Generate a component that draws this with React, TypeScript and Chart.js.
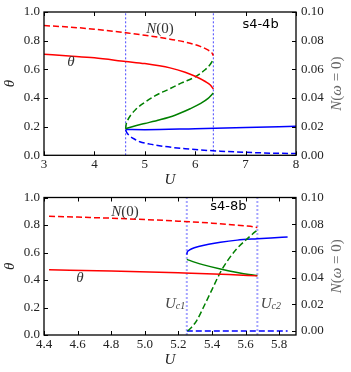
import React, { useEffect, useRef } from "react";
import { Chart, registerables } from "chart.js";
Chart.register(...registerables);

// ---------------- Panel A : s4-4b ----------------
const aXTicks = [3, 4, 5, 6, 7, 8];
const aThetaTicks = [0, 0.2, 0.4, 0.6, 0.8, 1.0];
const aNTicks = [0, 0.02, 0.04, 0.06, 0.08, 0.1];
const aUc = [4.62, 6.36];

const aRedThetaU = [3, 3.5, 4, 4.62, 5, 5.5, 5.8, 6.0, 6.2, 6.3, 6.36];
const aRedTheta = [0.705, 0.693, 0.68, 0.655, 0.64, 0.61, 0.58, 0.552, 0.515, 0.49, 0.462];
const aRedNU = [3, 3.5, 4, 4.62, 5, 5.5, 5.8, 6.1, 6.25, 6.33, 6.36];
const aRedN = [0.0905, 0.0895, 0.088, 0.0855, 0.0838, 0.081, 0.079, 0.076, 0.0735, 0.0715, 0.0695];

const aGreenThetaU = [4.62, 4.8, 5.0, 5.3, 5.6, 5.9, 6.1, 6.25, 6.36];
const aGreenTheta = [0.185, 0.205, 0.222, 0.248, 0.28, 0.325, 0.36, 0.395, 0.435];
const aGreenNU = [4.62, 4.63, 4.66, 4.72, 4.82, 4.94, 5.2, 5.47, 5.73, 6.0, 6.19, 6.3, 6.36];
const aGreenN = [0.0185, 0.0215, 0.0245, 0.028, 0.032, 0.0355, 0.0415, 0.046, 0.0505, 0.0547, 0.0595, 0.0635, 0.0668];

const aBlueThetaU = [4.62, 5, 6, 7, 8];
const aBlueTheta = [0.18, 0.179, 0.186, 0.194, 0.203];
const aBlueNU = [4.62, 4.64, 4.7, 4.8, 4.9, 5.1, 5.4, 5.8, 6.1, 6.5, 7, 7.5, 8];
const aBlueN = [0.0177, 0.016, 0.0135, 0.0112, 0.0095, 0.0078, 0.0061, 0.0046, 0.0037, 0.0029, 0.0021, 0.0015, 0.0012];

// ---------------- Panel B : s4-8b ----------------
const bXTicks = [4.4, 4.6, 4.8, 5.0, 5.2, 5.4, 5.6, 5.8];
const bThetaTicks = [0, 0.2, 0.4, 0.6, 0.8, 1.0];
const bNTicks = [0, 0.02, 0.04, 0.06, 0.08, 0.1];
const bUc = [5.25, 5.67];

const bRedThetaU = [4.43, 4.8, 5.2, 5.5, 5.67];
const bRedTheta = [0.474, 0.465, 0.452, 0.44, 0.43];
const bRedNU = [4.43, 4.6, 4.8, 5.0, 5.2, 5.4, 5.5, 5.6, 5.65, 5.67];
const bRedN = [0.086, 0.0853, 0.0845, 0.0835, 0.0823, 0.0808, 0.0798, 0.0787, 0.078, 0.0775];

const bGreenThetaU = [5.25, 5.3, 5.35, 5.45, 5.55, 5.62, 5.67];
const bGreenTheta = [0.55, 0.528, 0.51, 0.48, 0.455, 0.44, 0.432];
const bGreenNU = [5.255, 5.28, 5.31, 5.35, 5.4, 5.45, 5.5, 5.55, 5.6, 5.64, 5.67];
const bGreenN = [0.0, 0.003, 0.008, 0.018, 0.031, 0.044, 0.054, 0.062, 0.068, 0.0725, 0.0756];

const bBlueThetaU = [5.25, 5.252, 5.26, 5.28, 5.32, 5.38, 5.45, 5.55, 5.67, 5.75, 5.85];
const bBlueTheta = [0.585, 0.6, 0.613, 0.627, 0.643, 0.66, 0.675, 0.69, 0.7, 0.706, 0.713];
const bBlueNU = [5.25, 5.85];
const bBlueN = [0, 0];

// ---------------- helpers ----------------
const SERIF = '"Liberation Serif", "DejaVu Serif", serif';
const SANS = '"DejaVu Sans", sans-serif';
const it = (px: number) => `italic ${px}px ${SERIF}`;
const rm = (px: number) => `${px}px ${SERIF}`;

const RED = "#ff0000";
const GREEN = "#008000";
const BLUE = "#0000ff";

const pts = (us: number[], vs: number[]) => us.map((u, i) => ({ x: u, y: vs[i] }));

type Run = { t: string; font: string; dy?: number };
type Note = { runs: Run[]; u: number; v: number; color: string };

function drawRuns(ctx: CanvasRenderingContext2D, runs: Run[], x: number, y: number, color: string) {
  let total = 0;
  const widths = runs.map((r) => {
    ctx.font = r.font;
    const w = ctx.measureText(r.t).width;
    total += w;
    return w;
  });
  let cx = x - total / 2;
  ctx.fillStyle = color;
  ctx.textAlign = "left";
  ctx.textBaseline = "middle";
  runs.forEach((r, i) => {
    ctx.font = r.font;
    ctx.fillText(r.t, cx, y + (r.dy || 0));
    cx += widths[i];
  });
}

function makePlugin(xTicks: number[], thetaTicks: number[], nTicks: number[], notes: Note[]) {
  return {
    id: "decor",
    afterDatasetsDraw(chart: any) {
      const { ctx, chartArea: a, scales } = chart;
      ctx.save();
      ctx.strokeStyle = "#000";
      ctx.lineWidth = 1;
      ctx.beginPath();
      xTicks.forEach((v) => {
        const px = Math.round(scales.x.getPixelForValue(v)) + 0.5;
        ctx.moveTo(px, a.bottom);
        ctx.lineTo(px, a.bottom - 4);
        ctx.moveTo(px, a.top);
        ctx.lineTo(px, a.top + 4);
      });
      thetaTicks.forEach((v) => {
        const py = Math.round(scales.y.getPixelForValue(v)) + 0.5;
        ctx.moveTo(a.left, py);
        ctx.lineTo(a.left + 4, py);
      });
      nTicks.forEach((v) => {
        const py = Math.round(scales.y1.getPixelForValue(v)) + 0.5;
        ctx.moveTo(a.right, py);
        ctx.lineTo(a.right - 4, py);
      });
      ctx.stroke();
      ctx.lineWidth = 1.3;
      ctx.strokeRect(a.left, a.top, a.right - a.left, a.bottom - a.top);
      ctx.restore();
    },
    afterDraw(chart: any) {
      const { ctx, chartArea: a, scales } = chart;
      ctx.save();
      notes.forEach((n) => {
        drawRuns(ctx, n.runs, scales.x.getPixelForValue(n.u), scales.y.getPixelForValue(n.v), n.color);
      });
      const cy = (a.top + a.bottom) / 2;
      drawRuns(ctx, [{ t: "U", font: it(15) }], (a.left + a.right) / 2, a.bottom + 25, "#222");
      ctx.save();
      ctx.translate(10, cy);
      ctx.rotate(-Math.PI / 2);
      drawRuns(ctx, [{ t: "θ", font: it(15) }], 0, 0, "#222");
      ctx.restore();
      ctx.save();
      ctx.translate(337, cy);
      ctx.rotate(-Math.PI / 2);
      drawRuns(
        ctx,
        [
          { t: "N", font: it(15) },
          { t: "(", font: rm(15) },
          { t: "ω", font: it(15) },
          { t: " = 0)", font: rm(15) },
        ],
        0,
        0,
        "#666"
      );
      ctx.restore();
      ctx.restore();
    },
  };
}

function lineDs(data: any[], color: string, axis: string, dashed: boolean) {
  return {
    data,
    borderColor: color,
    backgroundColor: color,
    borderWidth: 1.5,
    borderDash: dashed ? [6, 3] : [],
    pointRadius: 0,
    fill: false,
    cubicInterpolationMode: "monotone",
    yAxisID: axis,
  };
}

function vlineDs(u: number, color: string, width: number) {
  return {
    data: [
      { x: u, y: 0 },
      { x: u, y: 1 },
    ],
    borderColor: color,
    borderWidth: width,
    borderDash: [2, 2],
    pointRadius: 0,
    fill: false,
    yAxisID: "y",
  };
}

function buildConfig(p: {
  xMin: number;
  xMax: number;
  xTicks: number[];
  xFmt: (v: number) => string;
  thetaTicks: number[];
  nTicks: number[];
  nMin: number;
  datasets: any[];
  padTop: number;
  xHeight: number;
  notes: Note[];
}) {
  const tickFont = { family: SERIF, size: 13, lineHeight: 1 };
  return {
    type: "line",
    data: { datasets: p.datasets },
    options: {
      responsive: false,
      animation: false,
      devicePixelRatio: 1,
      layout: { padding: { top: p.padTop, left: 0, right: 0, bottom: 0 } },
      plugins: { legend: { display: false }, tooltip: { enabled: false } },
      scales: {
        x: {
          type: "linear",
          min: p.xMin,
          max: p.xMax,
          grid: { display: false, drawTicks: false },
          border: { display: false },
          afterBuildTicks: (s: any) => {
            s.ticks = p.xTicks.map((v) => ({ value: v }));
          },
          afterFit: (s: any) => {
            s.height = p.xHeight;
          },
          ticks: { padding: 3, color: "#222", font: tickFont, maxRotation: 0, callback: (v: any) => p.xFmt(Number(v)) },
        },
        y: {
          type: "linear",
          position: "left",
          min: 0,
          max: 1,
          grid: { display: false, drawTicks: false },
          border: { display: false },
          afterBuildTicks: (s: any) => {
            s.ticks = p.thetaTicks.map((v) => ({ value: v }));
          },
          afterFit: (s: any) => {
            s.width = 44;
          },
          ticks: { padding: 4, color: "#222", font: tickFont, callback: (v: any) => Number(v).toFixed(1) },
        },
        y1: {
          type: "linear",
          position: "right",
          min: p.nMin,
          max: 0.1,
          grid: { display: false, drawTicks: false },
          border: { display: false },
          afterBuildTicks: (s: any) => {
            s.ticks = p.nTicks.map((v) => ({ value: v }));
          },
          afterFit: (s: any) => {
            s.width = 55;
          },
          ticks: { padding: 5, color: "#222", font: tickFont, callback: (v: any) => Number(v).toFixed(2) },
        },
      },
    },
    plugins: [makePlugin(p.xTicks, p.thetaTicks, p.nTicks, p.notes)],
  };
}

const N0Runs = (): Run[] => [
  { t: "N", font: it(15) },
  { t: "(0)", font: rm(15) },
];

function configA() {
  return buildConfig({
    xMin: 3,
    xMax: 8,
    xTicks: aXTicks,
    xFmt: (v) => String(v),
    thetaTicks: aThetaTicks,
    nTicks: aNTicks,
    nMin: 0,
    padTop: 12,
    xHeight: 30.7,
    datasets: [
      lineDs(pts(aRedThetaU, aRedTheta), RED, "y", false),
      lineDs(pts(aRedNU, aRedN), RED, "y1", true),
      lineDs(pts(aGreenThetaU, aGreenTheta), GREEN, "y", false),
      lineDs(pts(aGreenNU, aGreenN), GREEN, "y1", true),
      lineDs(pts(aBlueThetaU, aBlueTheta), BLUE, "y", false),
      lineDs(pts(aBlueNU, aBlueN), BLUE, "y1", true),
      ...aUc.map((u) => vlineDs(u, "rgba(40,40,255,0.85)", 1)),
    ],
    notes: [
      { runs: N0Runs(), u: 5.3, v: 0.878, color: "#333" },
      { runs: [{ t: "θ", font: it(15) }], u: 3.536, v: 0.649, color: "#333" },
      { runs: [{ t: "s4-4b", font: `13px ${SANS}` }], u: 7.296, v: 0.913, color: "#000" },
    ],
  });
}

function configB() {
  return buildConfig({
    xMin: 4.4,
    xMax: 5.9,
    xTicks: bXTicks,
    xFmt: (v) => v.toFixed(1),
    thetaTicks: bThetaTicks,
    nTicks: bNTicks,
    nMin: -0.003,
    padTop: 7,
    xHeight: 37,
    datasets: [
      lineDs(pts(bRedThetaU, bRedTheta), RED, "y", false),
      lineDs(pts(bRedNU, bRedN), RED, "y1", true),
      lineDs(pts(bGreenThetaU, bGreenTheta), GREEN, "y", false),
      lineDs(pts(bGreenNU, bGreenN), GREEN, "y1", true),
      lineDs(pts(bBlueThetaU, bBlueTheta), BLUE, "y", false),
      lineDs(pts(bBlueNU, bBlueN), BLUE, "y1", true),
      ...bUc.map((u) => vlineDs(u, "rgba(90,90,255,0.55)", 2)),
    ],
    notes: [
      { runs: N0Runs(), u: 4.882, v: 0.896, color: "#333" },
      { runs: [{ t: "θ", font: it(15) }], u: 4.614, v: 0.415, color: "#333" },
      { runs: [{ t: "s4-8b", font: `13px ${SANS}` }], u: 5.497, v: 0.932, color: "#000" },
      {
        runs: [
          { t: "U", font: it(15) },
          { t: "c1", font: it(10), dy: 3 },
        ],
        u: 5.18,
        v: 0.227,
        color: "#444",
      },
      {
        runs: [
          { t: "U", font: it(15) },
          { t: "c2", font: it(10), dy: 3 },
        ],
        u: 5.75,
        v: 0.227,
        color: "#444",
      },
    ],
  });
}

function Panel({ make }: { make: () => any }) {
  const ref = useRef<HTMLCanvasElement | null>(null);
  useEffect(() => {
    if (!ref.current) return;
    const chart = new Chart(ref.current, make());
    return () => chart.destroy();
  }, [make]);
  return <canvas ref={ref} width={351} height={186} style={{ display: "block", width: 351, height: 186 }} />;
}

export default function App() {
  return (
    <div style={{ position: "absolute", left: 0, top: 0, width: 351, height: 372, background: "#fff" }}>
      <Panel make={configA} />
      <Panel make={configB} />
    </div>
  );
}
